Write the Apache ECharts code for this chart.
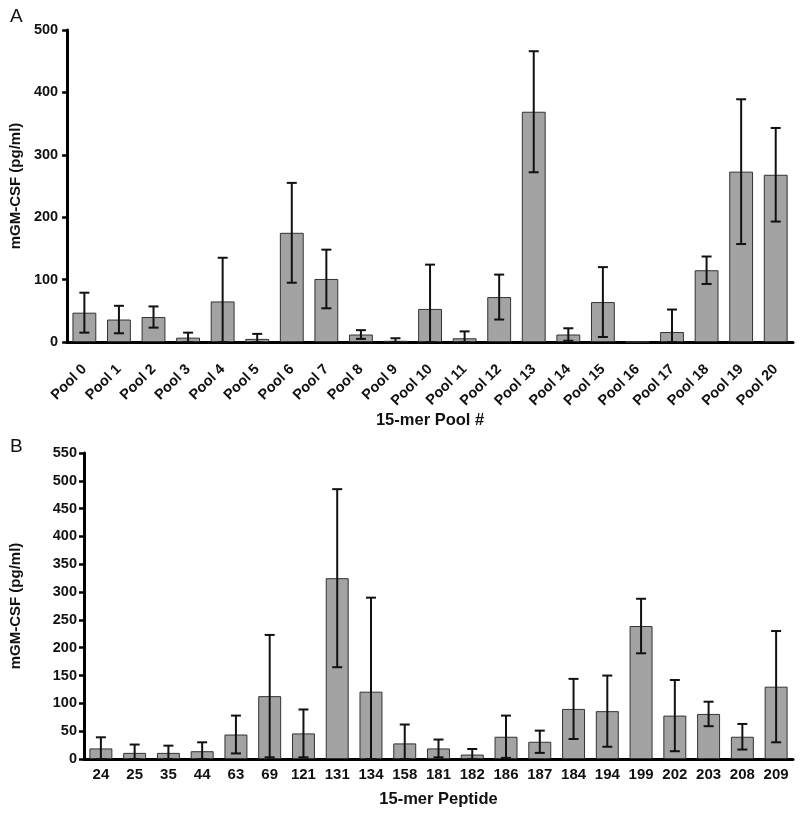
<!DOCTYPE html>
<html>
<head>
<meta charset="utf-8">
<script src="https://cdn.jsdelivr.net/npm/echarts@6/dist/echarts.min.js"></script>
<style>
html,body{margin:0;padding:0;background:#fff;}
#chart{width:800px;height:814px;}
</style>
</head>
<body>
<div id="chart"></div>
<script>
const poolCats = ['Pool 0','Pool 1','Pool 2','Pool 3','Pool 4','Pool 5','Pool 6','Pool 7','Pool 8','Pool 9','Pool 10','Pool 11','Pool 12','Pool 13','Pool 14','Pool 15','Pool 16','Pool 17','Pool 18','Pool 19','Pool 20'];
const poolMean = [47, 36, 40, 7, 65, 5, 175, 101, 12, 2, 53, 6, 72, 369, 12, 64, 0, 16, 115, 273, 268];
const poolErr  = [32, 22, 17, 8, 70, 8, 80, 47, 7, 4, 71, 11, 36, 97, 10, 56, 0, 36, 22, 116, 75];
const poolTicks = {min: 0, max: 500, interval: 100};

const pepCats = ['24','25','35','44','63','69','121','131','134','158','181','182','186','187','184','194','199','202','203','208','209'];
const pepMean = [19, 11, 11, 14, 44, 113, 46, 325, 121, 28, 19, 8, 40, 31, 90, 86, 239, 78, 81, 40, 130];
const pepErr  = [20, 15, 13, 16, 34, 110, 43, 160, 169, 34, 16, 10, 38, 20, 54, 64, 49, 64, 22, 23, 100];
const pepTicks = {min: 0, max: 550, interval: 50};

const FONT = '"Liberation Sans", Arial, Helvetica, sans-serif';

function errData(mean, err) {
  return mean.map((m, i) => [i, Math.max(0, m - err[i]), m + err[i]]);
}

function errItem(params, api) {
  const i = api.value(0), lo = api.value(1), hi = api.value(2);
  if (hi === lo) return null;
  const pHi = api.coord([i, hi]);
  const pLo = api.coord([i, lo]);
  const hw = 5;
  const st = {stroke: '#111', lineWidth: 2};
  return {
    type: 'group',
    children: [
      {type: 'line', shape: {x1: pHi[0], y1: pHi[1], x2: pLo[0], y2: pLo[1]}, style: st},
      {type: 'line', shape: {x1: pHi[0] - hw, y1: pHi[1], x2: pHi[0] + hw, y2: pHi[1]}, style: st},
      {type: 'line', shape: {x1: pLo[0] - hw, y1: pLo[1], x2: pLo[0] + hw, y2: pLo[1]}, style: st}
    ]
  };
}

const axisLineStyle = {color: '#000', width: 3};
const tickStyle = {color: '#000', width: 2.5};

const chart = echarts.init(document.getElementById('chart'), null, {renderer: 'canvas'});
chart.setOption({
  backgroundColor: '#fff',
  animation: false,
  title: [
    {text: 'A', left: 5, top: 2, textStyle: {fontFamily: FONT, fontWeight: 'normal', fontSize: 19, color: '#111'}},
    {text: 'B', left: 5, top: 432, textStyle: {fontFamily: FONT, fontWeight: 'normal', fontSize: 19, color: '#111'}}
  ],
  grid: [
    {left: 62, right: 7, top: 30, bottom: 472},
    {left: 81, right: 7, top: 453, bottom: 55}
  ],
  xAxis: [
    {
      type: 'category', gridIndex: 0, data: poolCats,
      axisLine: {lineStyle: axisLineStyle},
      axisTick: {alignWithLabel: true, length: 5, lineStyle: tickStyle},
      axisLabel: {rotate: 45, margin: 25, interval: 0, color: '#111', fontFamily: FONT, fontWeight: 'bold', fontSize: 14.5},
      name: '15-mer Pool #', nameLocation: 'middle', nameGap: 62,
      nameTextStyle: {fontFamily: FONT, fontWeight: 'bold', fontSize: 16.5, color: '#111'}
    },
    {
      type: 'category', gridIndex: 1, data: pepCats,
      axisLine: {lineStyle: axisLineStyle},
      axisTick: {alignWithLabel: true, length: 5, lineStyle: tickStyle},
      axisLabel: {margin: 8, interval: 0, color: '#111', fontFamily: FONT, fontWeight: 'bold', fontSize: 15},
      name: '15-mer Peptide', nameLocation: 'middle', nameGap: 32,
      nameTextStyle: {fontFamily: FONT, fontWeight: 'bold', fontSize: 16.5, color: '#111'}
    }
  ],
  yAxis: [
    {
      type: 'value', gridIndex: 0, min: poolTicks.min, max: poolTicks.max, interval: poolTicks.interval,
      axisLine: {show: true, lineStyle: axisLineStyle},
      axisTick: {show: true, length: 5, lineStyle: tickStyle},
      splitLine: {show: false},
      axisLabel: {margin: 9, color: '#111', fontFamily: FONT, fontWeight: 'bold', fontSize: 14.5},
      name: 'mGM-CSF (pg/ml)', nameLocation: 'middle', nameGap: 42,
      nameTextStyle: {fontFamily: FONT, fontWeight: 'bold', fontSize: 15, color: '#111'}
    },
    {
      type: 'value', gridIndex: 1, min: pepTicks.min, max: pepTicks.max, interval: pepTicks.interval,
      axisLine: {show: true, lineStyle: axisLineStyle},
      axisTick: {show: true, length: 5, lineStyle: tickStyle},
      splitLine: {show: false},
      axisLabel: {margin: 7, color: '#111', fontFamily: FONT, fontWeight: 'bold', fontSize: 14.5},
      name: 'mGM-CSF (pg/ml)', nameLocation: 'middle', nameGap: 61,
      nameTextStyle: {fontFamily: FONT, fontWeight: 'bold', fontSize: 15, color: '#111'}
    }
  ],
  series: [
    {
      type: 'bar', xAxisIndex: 0, yAxisIndex: 0, data: poolMean, barWidth: '69%',
      itemStyle: {color: '#a3a3a3', borderColor: '#333', borderWidth: 1}
    },
    {
      type: 'custom', xAxisIndex: 0, yAxisIndex: 0, data: errData(poolMean, poolErr),
      renderItem: errItem, encode: {x: 0, y: [1, 2]}, z: 5
    },
    {
      type: 'bar', xAxisIndex: 1, yAxisIndex: 1, data: pepMean, barWidth: '68%',
      itemStyle: {color: '#a3a3a3', borderColor: '#333', borderWidth: 1}
    },
    {
      type: 'custom', xAxisIndex: 1, yAxisIndex: 1, data: errData(pepMean, pepErr),
      renderItem: errItem, encode: {x: 0, y: [1, 2]}, z: 5
    }
  ]
});
</script>
</body>
</html>
